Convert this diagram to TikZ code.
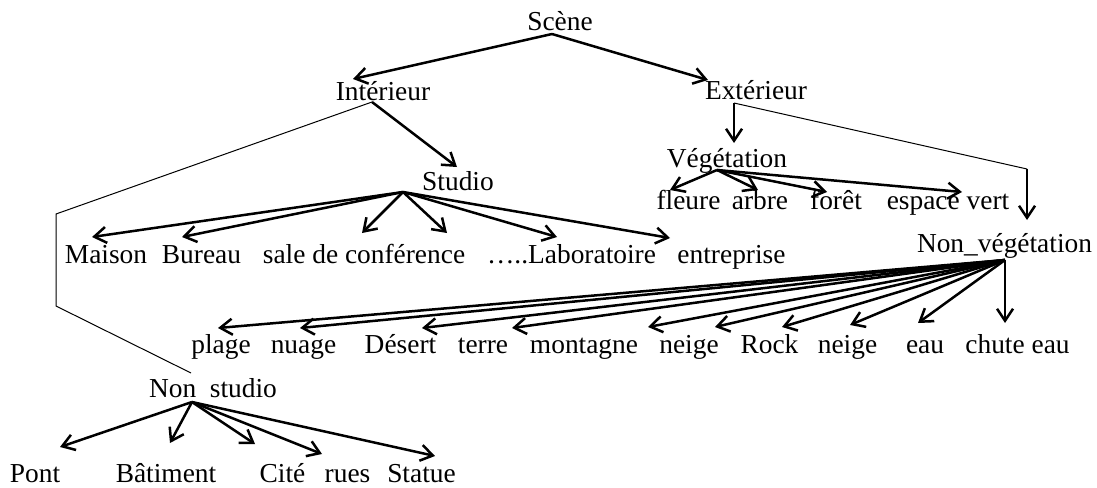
\documentclass[tikz,border=0pt]{standalone}
\usepackage{fontspec}
\setmainfont{Liberation Serif}
\usetikzlibrary{calc, arrows.meta}

\tikzset{
  lbl/.style={inner sep=0pt, anchor=base},
  arr/.style={line width=1.25pt, -{Straight Barb[length=6pt, width=8pt]}},
  lien/.style={line width=0.5pt},
}

\begin{document}
\begin{tikzpicture}[x=0.5pt, y=-0.5pt, font=\fontsize{13.7}{16}\selectfont]
  \useasboundingbox (0,0) rectangle (1097,487);

  % upper levels
  \node[lbl] (scene)     at (560,30)    {Scène};
  \node[lbl] (int)       at (383,100)   {Intérieur};
  \node[lbl] (ext)       at (756,99)    {Extérieur};
  \node[lbl] (studio)    at (458,190)   {Studio};
  \node[lbl] (veg)       at (727,167)   {Végétation};
  \node[lbl] (nonveg)    at (1004.5,252) {Non\_végétation};
  \node[lbl] (nonstudio) at (213,397)   {Non\hspace{0.5em}studio};

  % leaves of Studio
  \node[lbl] (maison) at (106,263)   {Maison};
  \node[lbl] (bureau) at (201.5,263) {Bureau};
  \node[lbl] (sale)   at (364,263)   {sale de conférence};
  \node[lbl] (labo)   at (571.5,263) {…..Laboratoire};
  \node[lbl] (entr)   at (731.5,263) {entreprise};

  % leaves of Végétation
  \node[lbl] (fleure) at (688.5,209) {fleure};
  \node[lbl] (arbre)  at (760,209)   {arbre};
  \node[lbl] (foret)  at (836,209)   {forêt};
  \node[lbl] (espace) at (948,209)   {espace vert};

  % leaves of Non_végétation
  \node[lbl] (plage)    at (221,353)    {plage};
  \node[lbl] (nuage)    at (303.5,353)  {nuage};
  \node[lbl] (desert)   at (400.5,353)  {Désert};
  \node[lbl] (terre)    at (483,353)    {terre};
  \node[lbl] (montagne) at (584,353)    {montagne};
  \node[lbl] (neigeA)   at (689,353)    {neige};
  \node[lbl] (rock)     at (769.5,353)  {Rock};
  \node[lbl] (neigeB)   at (847.5,353)  {neige};
  \node[lbl] (eau)      at (925,353)    {eau};
  \node[lbl] (chute)    at (1017.5,353) {chute eau};

  % leaves of Non studio
  \node[lbl] (pont)   at (35,482)    {Pont};
  \node[lbl] (bat)    at (166,482)   {Bâtiment};
  \node[lbl] (cite)   at (282.5,482) {Cité};
  \node[lbl] (rues)   at (347.5,482) {rues};
  \node[lbl] (statue) at (421.5,482) {Statue};

  % roots of the fans
  \coordinate (scene-r)  at ($(scene.base)+(-8,4)$);
  \coordinate (int-r)    at ($(int.base)+(-11,2)$);
  \coordinate (ext-r)    at ($(ext.base)+(-22,4)$);
  \coordinate (studio-r) at ($(studio.base)+(-55,2)$);
  \coordinate (veg-r)    at ($(veg.base)+(-10,3)$);
  \coordinate (nv-r)     at ($(nonveg.base)+(0.5,8)$);
  \coordinate (ns-r)     at ($(nonstudio.base)+(-21,5)$);
  \coordinate (int-b1) at (56,214);
  \coordinate (int-b2) at (56,306);
  \coordinate (ext-b)  at (1027,169);

  \draw[arr] (scene-r) -- ($(int.base)+(-30,-21)$);
  \draw[arr] (scene-r) -- ($(ext.base)+(-48,-19)$);
  \draw[arr] (int-r) -- ($(studio.base)+(-1,-23)$);
  \draw[lien] (int-r) -- (int-b1) -- (int-b2) -- ($(nonstudio.base)+(-22,-24)$);
  \draw[arr] (ext-r) -- ($(veg.base)+(7,-24)$);
  \draw[lien] (ext-r) -- (ext-b);
  \draw[arr] (ext-b) -- ($(nonveg.base)+(22.5,-32)$);

  \foreach \n/\dx/\dy in {maison/-14/-26, bureau/-19.5/-26, sale/-2/-30, sale/83/-30,
      labo/-14.5/-26, entr/-61.5/-25}
    \draw[arr] (studio-r) -- ($(\n.base)+(\dx,\dy)$);

  \foreach \n/\dx/\dy in {fleure/-18.5/-19, arbre/-2/-19, foret/-9/-17, espace/14/-17}
    \draw[arr] (veg-r) -- ($(\n.base)+(\dx,\dy)$);

  \foreach \n/\dx/\dy in {plage/-3/-25, nuage/-3.5/-25, desert/21.5/-25, terre/29/-25,
      montagne/64/-26, neigeA/26/-26, rock/12.5/-26, neigeB/2.5/-28, eau/-7/-30,
      chute/-12.5/-30}
    \draw[arr] (nv-r) -- ($(\n.base)+(\dx,\dy)$);

  \foreach \n/\dx/\dy in {pont/25/-35, bat/4/-39, cite/-27.5/-38, rues/-25.5/-28,
      statue/13.5/-26}
    \draw[arr] (ns-r) -- ($(\n.base)+(\dx,\dy)$);
\end{tikzpicture}
\end{document}
